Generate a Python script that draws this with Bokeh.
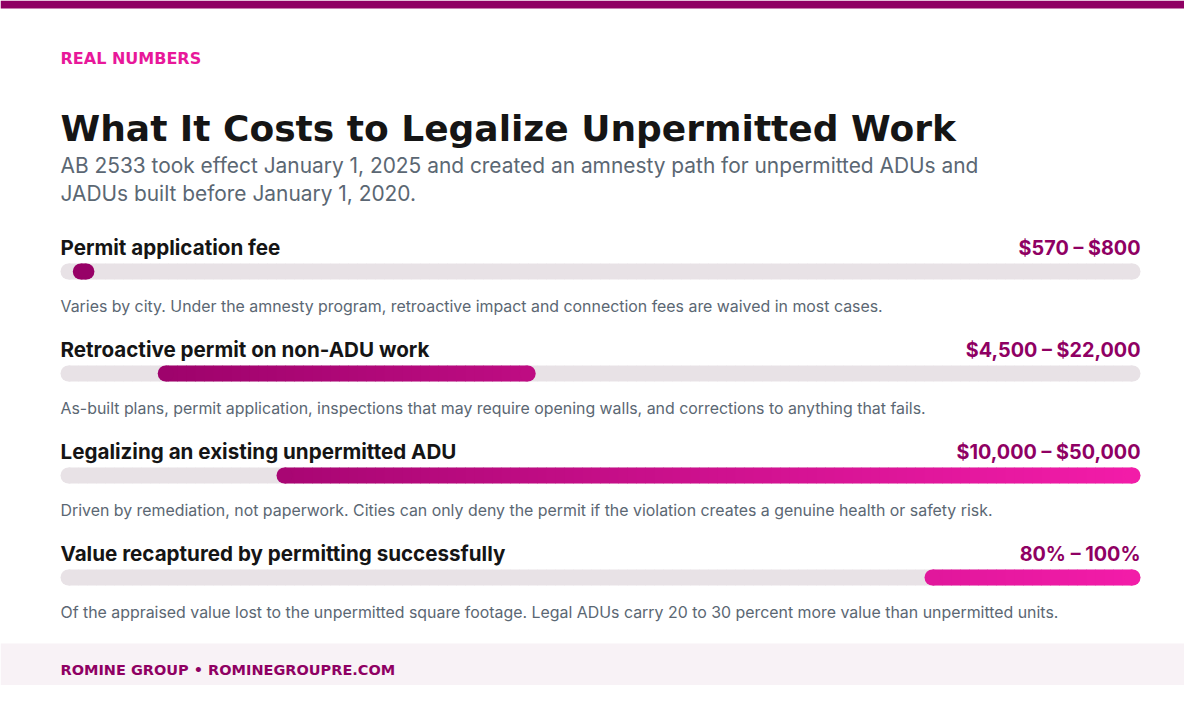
import numpy as np
from bokeh.plotting import figure
from bokeh.models import Range1d
from bokeh.core.properties import value
from bokeh.embed import file_html
from bokeh.resources import INLINE

# ---- data ----
eyebrow = "REAL NUMBERS"
title = "What It Costs to Legalize Unpermitted Work"
subtitle = [
    "AB 2533 took effect January 1, 2025 and created an amnesty path for unpermitted ADUs and",
    "JADUs built before January 1, 2020.",
]
labels = [
    "Permit application fee",
    "Retroactive permit on non-ADU work",
    "Legalizing an existing unpermitted ADU",
    "Value recaptured by permitting successfully",
]
range_text = ["$570 – $800", "$4,500 – $22,000", "$10,000 – $50,000", "80% – 100%"]
low = [570, 4500, 10000, 80]
high = [800, 22000, 50000, 100]
scale = ["usd", "usd", "usd", "pct"]
scale_max = {"usd": 50000, "pct": 100}
notes = [
    "Varies by city. Under the amnesty program, retroactive impact and connection fees are waived in most cases.",
    "As-built plans, permit application, inspections that may require opening walls, and corrections to anything that fails.",
    "Driven by remediation, not paperwork. Cities can only deny the permit if the violation creates a genuine health or safety risk.",
    "Of the appraised value lost to the unpermitted square footage. Legal ADUs carry 20 to 30 percent more value than unpermitted units.",
]
footer = "ROMINE GROUP  \u2022  ROMINEGROUPRE.COM"

# ---- layout / style ----
W, H = 1184, 685
LEFT, RIGHT = 60, 1140
TRACK_W = RIGHT - LEFT
BAR_H = 16
ROW0, ROW_STEP = 247, 102
MIN_FRAC = 0.02

FONT = value("Inter")
WIDE = value("DejaVu Sans")
DARK = "#8f0063"
PINK = "#e8189a"
INK = "#151515"
SLATE = "#5b6773"
TRACK = "#e8e2e6"
G0, G1 = "#950065", "#f31ca9"


def mix(c0, c1, t):
    a = [int(c0[i:i + 2], 16) for i in (1, 3, 5)]
    b = [int(c1[i:i + 2], 16) for i in (1, 3, 5)]
    return "#%02x%02x%02x" % tuple(round(a[k] + (b[k] - a[k]) * t) for k in range(3))


p = figure(width=W, height=H, x_range=Range1d(0, W), y_range=Range1d(H, 0),
           output_backend="svg", toolbar_location=None, tools="",
           x_axis_type=None, y_axis_type=None, min_border=0)
p.grid.visible = False
p.outline_line_color = None
p.background_fill_color = "white"
p.border_fill_color = "white"

# value scales mapped onto the track
for name, vmax in scale_max.items():
    per_px = vmax / TRACK_W
    p.extra_x_ranges[name] = Range1d(-LEFT * per_px, (W - LEFT) * per_px)

# top strip and footer band
p.quad(left=[0], right=[W], top=[0], bottom=[8], fill_color=DARK, line_color=None)
p.quad(left=[0], right=[W], top=[643], bottom=[H], fill_color="#f8f2f6", line_color=None)

# header texts
p.text([LEFT], [58], text=[eyebrow], text_font=WIDE, text_font_style="bold",
       text_font_size="16px", text_color=PINK, text_baseline="alphabetic")
p.text([LEFT], [128], text=[title], text_font=WIDE, text_font_style="bold",
       text_font_size="36px", text_color=INK, text_baseline="alphabetic")
p.text([LEFT, LEFT], [165, 193], text=subtitle, text_font=FONT,
       text_font_size="20.9px", text_color=SLATE, text_baseline="alphabetic")

rc = 8 / TRACK_W  # cap radius as a fraction of the track
edges_all = np.linspace(0, 1, 121)


def pill(f0, f1, yc, rng, c0, c1):
    vmax = scale_max[rng]
    a, b = f0 + rc, f1 - rc
    cuts = [a] + [e for e in edges_all if a < e < b] + [b]
    lefts = np.array(cuts[:-1])
    rights = np.array(cuts[1:])
    cols = [mix(c0, c1, (l + r) / 2) for l, r in zip(lefts, rights)]
    pad = 0.5 / TRACK_W
    p.quad(left=lefts * vmax, right=np.minimum(rights + pad, b) * vmax,
           top=[yc - BAR_H / 2] * len(lefts), bottom=[yc + BAR_H / 2] * len(lefts),
           fill_color=cols, line_color=None, x_range_name=rng)
    p.scatter(x=[a * vmax, b * vmax], y=[yc, yc], size=BAR_H, marker="circle",
              fill_color=[mix(c0, c1, a), mix(c0, c1, b)], line_color=None,
              x_range_name=rng)


for i in range(len(labels)):
    y0 = ROW0 + i * ROW_STEP
    yc = y0 + 24
    vmax = scale_max[scale[i]]
    f0 = low[i] / vmax
    f1 = max(high[i] / vmax, f0 + MIN_FRAC)

    p.text([LEFT], [y0], text=[labels[i]], text_font=FONT, text_font_style="bold",
           text_font_size="20.6px", text_color=INK, text_baseline="alphabetic")
    p.text([RIGHT], [y0], text=[range_text[i]], text_font=FONT, text_font_style="bold",
           text_font_size="19.8px", text_color=DARK, text_baseline="alphabetic",
           text_align="right")

    pill(0, 1, yc, scale[i], TRACK, TRACK)
    pill(f0, f1, yc, scale[i], G0, G1)

    p.text([LEFT], [y0 + 59], text=[notes[i]], text_font=FONT,
           text_font_size="15.9px", text_color=SLATE, text_baseline="alphabetic")

p.text([LEFT], [669], text=[footer], text_font=WIDE, text_font_style="bold",
       text_font_size="14.5px", text_color=DARK, text_baseline="alphabetic")

open("out.html", "w").write(file_html(p, INLINE, title="What It Costs to Legalize Unpermitted Work"))
